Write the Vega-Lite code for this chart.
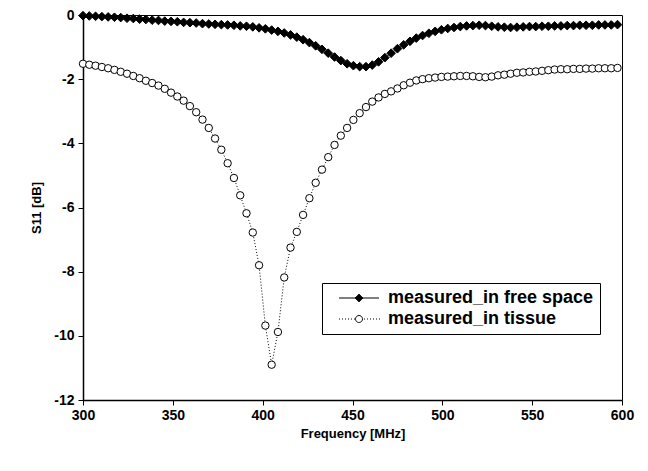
{
  "$schema": "https://vega.github.io/schema/vega-lite/v6.json",
  "width": 539,
  "height": 385,
  "autosize": {"type": "none"},
  "padding": {"left": 83, "top": 15, "right": 26, "bottom": 71},
  "background": "white",
  "config": {
    "font": "Liberation Sans",
    "view": {"stroke": "black", "strokeWidth": 1},
    "axis": {
      "labelFont": "Liberation Sans", "labelFontWeight": "bold", "labelFontSize": 14, "labelColor": "black", "labelFlush": false,
      "titleFont": "Liberation Sans", "titleFontWeight": "bold", "titleFontSize": 13, "titleColor": "black",
      "domainColor": "black", "domainWidth": 1.5, "tickColor": "black", "tickSize": 5, "tickWidth": 1, "grid": false
    }
  },
  "data": {"values": [
    {"f":300,"s":"measured_in free space","v":-0.02},{"f":303.5,"s":"measured_in free space","v":-0.03},{"f":307,"s":"measured_in free space","v":-0.04},{"f":310.5,"s":"measured_in free space","v":-0.05},{"f":314,"s":"measured_in free space","v":-0.06},{"f":317.5,"s":"measured_in free space","v":-0.07},{"f":321,"s":"measured_in free space","v":-0.08},{"f":324.5,"s":"measured_in free space","v":-0.10},{"f":328,"s":"measured_in free space","v":-0.11},{"f":331.5,"s":"measured_in free space","v":-0.13},{"f":335,"s":"measured_in free space","v":-0.14},{"f":338.5,"s":"measured_in free space","v":-0.16},{"f":342,"s":"measured_in free space","v":-0.17},{"f":345.5,"s":"measured_in free space","v":-0.19},{"f":349,"s":"measured_in free space","v":-0.20},{"f":352.5,"s":"measured_in free space","v":-0.21},{"f":356,"s":"measured_in free space","v":-0.23},{"f":359.5,"s":"measured_in free space","v":-0.24},{"f":363,"s":"measured_in free space","v":-0.25},{"f":366.5,"s":"measured_in free space","v":-0.27},{"f":370,"s":"measured_in free space","v":-0.28},{"f":373.5,"s":"measured_in free space","v":-0.29},{"f":377,"s":"measured_in free space","v":-0.30},{"f":380.5,"s":"measured_in free space","v":-0.31},{"f":384,"s":"measured_in free space","v":-0.32},{"f":387.5,"s":"measured_in free space","v":-0.34},{"f":391,"s":"measured_in free space","v":-0.35},{"f":394.5,"s":"measured_in free space","v":-0.37},{"f":398,"s":"measured_in free space","v":-0.40},{"f":401.5,"s":"measured_in free space","v":-0.43},{"f":405,"s":"measured_in free space","v":-0.47},{"f":408.5,"s":"measured_in free space","v":-0.51},{"f":412,"s":"measured_in free space","v":-0.56},{"f":415.5,"s":"measured_in free space","v":-0.62},{"f":419,"s":"measured_in free space","v":-0.69},{"f":422.5,"s":"measured_in free space","v":-0.77},{"f":426,"s":"measured_in free space","v":-0.86},{"f":429.5,"s":"measured_in free space","v":-0.96},{"f":433,"s":"measured_in free space","v":-1.07},{"f":436.5,"s":"measured_in free space","v":-1.19},{"f":440,"s":"measured_in free space","v":-1.31},{"f":443.5,"s":"measured_in free space","v":-1.42},{"f":447,"s":"measured_in free space","v":-1.52},{"f":450.5,"s":"measured_in free space","v":-1.58},{"f":454,"s":"measured_in free space","v":-1.61},{"f":457.5,"s":"measured_in free space","v":-1.61},{"f":461,"s":"measured_in free space","v":-1.56},{"f":464.5,"s":"measured_in free space","v":-1.46},{"f":468,"s":"measured_in free space","v":-1.33},{"f":471.5,"s":"measured_in free space","v":-1.19},{"f":475,"s":"measured_in free space","v":-1.05},{"f":478.5,"s":"measured_in free space","v":-0.93},{"f":482,"s":"measured_in free space","v":-0.82},{"f":485.5,"s":"measured_in free space","v":-0.72},{"f":489,"s":"measured_in free space","v":-0.64},{"f":492.5,"s":"measured_in free space","v":-0.57},{"f":496,"s":"measured_in free space","v":-0.51},{"f":499.5,"s":"measured_in free space","v":-0.46},{"f":503,"s":"measured_in free space","v":-0.42},{"f":506.5,"s":"measured_in free space","v":-0.39},{"f":510,"s":"measured_in free space","v":-0.36},{"f":513.5,"s":"measured_in free space","v":-0.34},{"f":517,"s":"measured_in free space","v":-0.33},{"f":520.5,"s":"measured_in free space","v":-0.32},{"f":524,"s":"measured_in free space","v":-0.33},{"f":527.5,"s":"measured_in free space","v":-0.35},{"f":531,"s":"measured_in free space","v":-0.37},{"f":534.5,"s":"measured_in free space","v":-0.38},{"f":538,"s":"measured_in free space","v":-0.39},{"f":541.5,"s":"measured_in free space","v":-0.38},{"f":545,"s":"measured_in free space","v":-0.37},{"f":548.5,"s":"measured_in free space","v":-0.36},{"f":552,"s":"measured_in free space","v":-0.36},{"f":555.5,"s":"measured_in free space","v":-0.35},{"f":559,"s":"measured_in free space","v":-0.35},{"f":562.5,"s":"measured_in free space","v":-0.34},{"f":566,"s":"measured_in free space","v":-0.34},{"f":569.5,"s":"measured_in free space","v":-0.33},{"f":573,"s":"measured_in free space","v":-0.33},{"f":576.5,"s":"measured_in free space","v":-0.32},{"f":580,"s":"measured_in free space","v":-0.32},{"f":583.5,"s":"measured_in free space","v":-0.32},{"f":587,"s":"measured_in free space","v":-0.31},{"f":590.5,"s":"measured_in free space","v":-0.31},{"f":594,"s":"measured_in free space","v":-0.31},{"f":597.5,"s":"measured_in free space","v":-0.30},
    {"f":300,"s":"measured_in tissue","v":-1.52},{"f":303.5,"s":"measured_in tissue","v":-1.55},{"f":307,"s":"measured_in tissue","v":-1.58},{"f":310.5,"s":"measured_in tissue","v":-1.62},{"f":314,"s":"measured_in tissue","v":-1.66},{"f":317.5,"s":"measured_in tissue","v":-1.71},{"f":321,"s":"measured_in tissue","v":-1.77},{"f":324.5,"s":"measured_in tissue","v":-1.83},{"f":328,"s":"measured_in tissue","v":-1.90},{"f":331.5,"s":"measured_in tissue","v":-1.97},{"f":335,"s":"measured_in tissue","v":-2.05},{"f":338.5,"s":"measured_in tissue","v":-2.12},{"f":342,"s":"measured_in tissue","v":-2.20},{"f":345.5,"s":"measured_in tissue","v":-2.30},{"f":349,"s":"measured_in tissue","v":-2.42},{"f":352.5,"s":"measured_in tissue","v":-2.54},{"f":356,"s":"measured_in tissue","v":-2.67},{"f":359.5,"s":"measured_in tissue","v":-2.84},{"f":363,"s":"measured_in tissue","v":-3.03},{"f":366.5,"s":"measured_in tissue","v":-3.26},{"f":370,"s":"measured_in tissue","v":-3.52},{"f":373.5,"s":"measured_in tissue","v":-3.85},{"f":377,"s":"measured_in tissue","v":-4.20},{"f":380.5,"s":"measured_in tissue","v":-4.62},{"f":384,"s":"measured_in tissue","v":-5.08},{"f":387.5,"s":"measured_in tissue","v":-5.62},{"f":391,"s":"measured_in tissue","v":-6.18},{"f":394.5,"s":"measured_in tissue","v":-6.78},{"f":398,"s":"measured_in tissue","v":-7.80},{"f":401.5,"s":"measured_in tissue","v":-9.68},{"f":405,"s":"measured_in tissue","v":-10.90},{"f":408.5,"s":"measured_in tissue","v":-9.88},{"f":412,"s":"measured_in tissue","v":-8.18},{"f":415.5,"s":"measured_in tissue","v":-7.25},{"f":419,"s":"measured_in tissue","v":-6.76},{"f":422.5,"s":"measured_in tissue","v":-6.23},{"f":426,"s":"measured_in tissue","v":-5.71},{"f":429.5,"s":"measured_in tissue","v":-5.23},{"f":433,"s":"measured_in tissue","v":-4.82},{"f":436.5,"s":"measured_in tissue","v":-4.43},{"f":440,"s":"measured_in tissue","v":-4.05},{"f":443.5,"s":"measured_in tissue","v":-3.76},{"f":447,"s":"measured_in tissue","v":-3.52},{"f":450.5,"s":"measured_in tissue","v":-3.27},{"f":454,"s":"measured_in tissue","v":-3.06},{"f":457.5,"s":"measured_in tissue","v":-2.87},{"f":461,"s":"measured_in tissue","v":-2.70},{"f":464.5,"s":"measured_in tissue","v":-2.57},{"f":468,"s":"measured_in tissue","v":-2.46},{"f":471.5,"s":"measured_in tissue","v":-2.38},{"f":475,"s":"measured_in tissue","v":-2.29},{"f":478.5,"s":"measured_in tissue","v":-2.19},{"f":482,"s":"measured_in tissue","v":-2.11},{"f":485.5,"s":"measured_in tissue","v":-2.04},{"f":489,"s":"measured_in tissue","v":-2.00},{"f":492.5,"s":"measured_in tissue","v":-1.97},{"f":496,"s":"measured_in tissue","v":-1.95},{"f":499.5,"s":"measured_in tissue","v":-1.93},{"f":503,"s":"measured_in tissue","v":-1.92},{"f":506.5,"s":"measured_in tissue","v":-1.91},{"f":510,"s":"measured_in tissue","v":-1.90},{"f":513.5,"s":"measured_in tissue","v":-1.90},{"f":517,"s":"measured_in tissue","v":-1.91},{"f":520.5,"s":"measured_in tissue","v":-1.93},{"f":524,"s":"measured_in tissue","v":-1.94},{"f":527.5,"s":"measured_in tissue","v":-1.92},{"f":531,"s":"measured_in tissue","v":-1.88},{"f":534.5,"s":"measured_in tissue","v":-1.86},{"f":538,"s":"measured_in tissue","v":-1.83},{"f":541.5,"s":"measured_in tissue","v":-1.80},{"f":545,"s":"measured_in tissue","v":-1.79},{"f":548.5,"s":"measured_in tissue","v":-1.77},{"f":552,"s":"measured_in tissue","v":-1.76},{"f":555.5,"s":"measured_in tissue","v":-1.74},{"f":559,"s":"measured_in tissue","v":-1.72},{"f":562.5,"s":"measured_in tissue","v":-1.70},{"f":566,"s":"measured_in tissue","v":-1.69},{"f":569.5,"s":"measured_in tissue","v":-1.69},{"f":573,"s":"measured_in tissue","v":-1.68},{"f":576.5,"s":"measured_in tissue","v":-1.68},{"f":580,"s":"measured_in tissue","v":-1.67},{"f":583.5,"s":"measured_in tissue","v":-1.67},{"f":587,"s":"measured_in tissue","v":-1.66},{"f":590.5,"s":"measured_in tissue","v":-1.66},{"f":594,"s":"measured_in tissue","v":-1.66},{"f":597.5,"s":"measured_in tissue","v":-1.65}
  ]},
  "encoding": {
    "x": {"field": "f", "type": "quantitative", "title": "Frequency [MHz]",
      "scale": {"domain": [300, 600], "nice": false, "zero": false},
      "axis": {"values": [300, 350, 400, 450, 500, 550, 600], "labelPadding": 3, "titlePadding": 5}},
    "y": {"field": "v", "type": "quantitative", "title": "S11 [dB]",
      "scale": {"domain": [-12, 0], "nice": false, "zero": false},
      "axis": {"values": [-12, -10, -8, -6, -4, -2, 0], "labelExpr": "'' + datum.value", "labelPadding": 4, "titlePadding": 10}}
  },
  "layer": [
    {
      "mark": {"type": "line", "strokeWidth": 1},
      "encoding": {
        "stroke": {"field": "s", "type": "nominal",
          "scale": {"domain": ["measured_in free space", "measured_in tissue"], "range": ["black", "black"]},
          "legend": {
            "title": null, "orient": "none", "legendX": 239, "legendY": 268,
            "strokeColor": "black", "fillColor": "white", "padding": 6,
            "labelFont": "Liberation Sans", "labelFontWeight": "bold", "labelFontSize": 18, "labelColor": "black",
            "labelLimit": 400, "labelOffset": 42, "symbolSize": 100, "rowPadding": 3, "symbolStrokeWidth": 1,
            "encode": {"symbols": {"update": {
              "shape": [{"test": "datum.value === 'measured_in tissue'", "value": "M0.4,0h0.2M1,0h0.2M1.6,0h0.2M2.2,0h0.2M2.8,0h0.2M3.4,0h0.2M5.4,0h0.2M6,0h0.2M6.6,0h0.2M7.2,0h0.2M7.8,0h0.2M8.4,0h0.2M5.1,0A0.7,0.7 0 1,1 3.7,0A0.7,0.7 0 1,1 5.1,0Z"}, {"value": "M0.4,0H8.4M4.4,-0.8L5.2,0L4.4,0.8L3.6,0Z"}],
              "fill": [{"test": "datum.value === 'measured_in tissue'", "value": "white"}, {"value": "black"}],
              "stroke": {"value": "black"},
              "strokeDash": {"value": [1, 0]},
              "strokeWidth": {"value": 1},
              "opacity": {"value": 1}
            }}}
          }},
        "strokeDash": {"condition": {"test": "datum.s === 'measured_in tissue'", "value": [1, 2]}, "value": [1, 0]}
      }
    },
    {
      "mark": {"type": "point", "filled": true, "stroke": "black", "strokeWidth": 1, "opacity": 1},
      "encoding": {
        "detail": {"field": "s", "type": "nominal"},
        "fill": {"condition": {"test": "datum.s === 'measured_in tissue'", "value": "white"}, "value": "black"},
        "size": {"condition": {"test": "datum.s === 'measured_in tissue'", "value": 55}, "value": 75},
        "shape": {"condition": {"test": "datum.s === 'measured_in tissue'", "value": "circle"}, "value": "diamond"}
      }
    }
  ]
}
